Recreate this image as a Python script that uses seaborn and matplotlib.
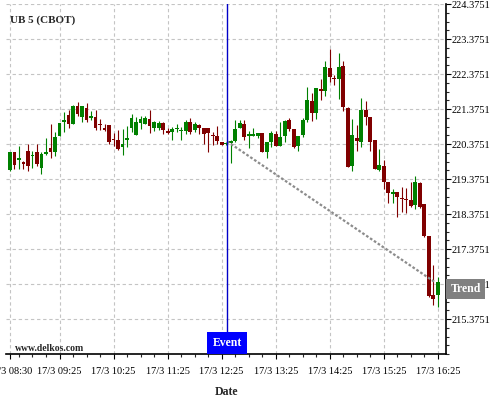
"""
UB 5 (CBOT) 5分钟K线图，带事件线和趋势线
"""

import numpy as np
import pandas as pd
import matplotlib
matplotlib.use("Agg")
import matplotlib.pyplot as plt
import matplotlib.dates as mdates
import matplotlib.transforms as mtransforms
import seaborn as sns

# 数据
opens = [219.63, 220.15, 219.93, 219.86, 220.18, 220.02, 220.15, 219.70, 220.09, 220.27,
         220.16, 220.61, 221.01, 221.20, 220.95, 221.46, 221.15, 221.39, 221.13, 221.15,
         220.95, 220.82, 220.92, 220.52, 220.50, 220.29, 220.50, 220.82, 220.63, 220.97,
         220.94, 221.09, 220.84, 220.84, 220.97, 220.75, 220.71, 220.80, 220.75, 220.75,
         220.99, 220.77, 220.92, 220.84, 220.84, 220.63, 220.59, 220.42, 220.37, 220.40,
         220.46, 220.84, 220.95, 220.59, 220.61, 220.61, 220.69, 220.16, 220.42, 220.67,
         220.32, 220.60, 221.06, 220.79, 220.32, 220.64, 221.06, 221.59, 221.27, 221.95,
         221.90, 222.55, 222.26, 222.24, 222.60, 221.40, 219.75, 220.55, 220.43, 221.35,
         221.16, 220.49, 219.63, 219.75, 219.29, 218.95, 219.00, 218.83, 218.81, 218.78,
         218.62, 219.27, 218.66, 217.75, 216.07, 216.07]
highs = [220.15, 220.15, 220.33, 219.88, 220.38, 220.18, 220.38, 220.15, 220.55, 220.94,
         220.73, 220.97, 221.30, 221.34, 221.48, 221.58, 221.46, 221.55, 221.32, 221.35,
         221.09, 220.94, 220.92, 220.69, 220.78, 220.80, 220.90, 221.24, 221.15, 221.17,
         221.18, 221.35, 221.03, 221.03, 221.01, 220.82, 220.86, 220.95, 220.86, 221.07,
         221.13, 220.99, 220.95, 220.84, 220.84, 220.71, 220.90, 220.42, 220.42, 220.48,
         221.05, 221.07, 221.07, 220.75, 220.82, 220.69, 220.69, 220.42, 220.75, 220.75,
         221.00, 221.06, 221.12, 220.79, 220.60, 221.12, 221.99, 221.82, 221.97, 222.22,
         222.74, 223.10, 222.35, 222.97, 222.74, 221.44, 221.10, 220.93, 221.69, 221.61,
         221.16, 220.49, 220.22, 219.92, 219.29, 219.10, 219.00, 219.16, 219.12, 219.29,
         219.46, 219.29, 218.66, 217.75, 216.91, 216.58]
lows = [219.60, 219.66, 219.66, 219.66, 219.60, 219.69, 219.75, 219.53, 220.06, 219.97,
        220.04, 220.59, 220.71, 220.82, 220.94, 221.18, 221.01, 220.99, 221.05, 220.78,
        220.78, 220.75, 220.38, 220.33, 220.19, 220.06, 220.29, 220.73, 220.63, 220.80,
        220.94, 220.69, 220.75, 220.78, 220.67, 220.65, 220.48, 220.73, 220.50, 220.67,
        220.67, 220.73, 220.67, 220.37, 220.14, 220.35, 220.38, 220.35, 220.35, 219.82,
        220.43, 220.82, 220.48, 220.27, 220.59, 220.55, 220.14, 219.97, 220.30, 220.31,
        220.32, 220.43, 220.75, 220.26, 220.17, 220.57, 221.00, 221.02, 221.10, 221.63,
        221.75, 222.15, 222.05, 221.67, 221.31, 219.71, 219.61, 220.17, 220.30, 220.93,
        220.17, 219.65, 219.61, 219.10, 218.70, 218.70, 218.30, 218.43, 218.40, 218.58,
        218.53, 218.56, 217.71, 215.99, 215.77, 215.73]
closes = [220.15, 219.78, 219.98, 219.80, 219.74, 220.06, 219.81, 220.10, 220.14, 220.16,
          220.57, 220.97, 221.07, 220.95, 221.46, 221.22, 221.46, 221.07, 221.17, 220.84,
          220.92, 220.78, 220.44, 220.48, 220.23, 220.37, 220.54, 221.13, 221.01, 221.09,
          221.11, 220.90, 220.99, 220.97, 220.78, 220.69, 220.80, 220.84, 220.78, 220.99,
          220.73, 220.94, 220.82, 220.67, 220.69, 220.59, 220.46, 220.35, 220.40, 220.46,
          220.80, 220.97, 220.57, 220.65, 220.65, 220.69, 220.16, 220.42, 220.69, 220.31,
          220.57, 221.04, 220.80, 220.30, 220.60, 221.06, 221.63, 221.25, 221.97, 221.90,
          222.57, 222.30, 222.22, 222.57, 221.44, 219.73, 220.64, 220.45, 221.35, 221.16,
          220.43, 219.67, 219.77, 219.29, 218.97, 219.00, 218.85, 218.80, 218.78, 218.60,
          219.29, 218.58, 217.75, 216.03, 215.95, 216.43]

times = pd.date_range("2017-03-17 08:30", periods=len(opens), freq="5min")

event_time = pd.Timestamp("2017-03-17 12:31")
trend_times = pd.to_datetime(["2017-03-17 12:31", "2017-03-17 16:21"])
trend_prices = [220.45, 216.44]
trend_label_price = 216.24

tick_times = pd.to_datetime(["2017-03-17 08:30", "2017-03-17 09:25", "2017-03-17 10:25",
                             "2017-03-17 11:25", "2017-03-17 12:25", "2017-03-17 13:25",
                             "2017-03-17 14:25", "2017-03-17 15:25", "2017-03-17 16:25"])
tick_labels = ["17/3 08:30", "17/3 09:25", "17/3 10:25", "17/3 11:25", "17/3 12:25",
               "17/3 13:25", "17/3 14:25", "17/3 15:25", "17/3 16:25"]
y_ticks = [215.3751, 216.3751, 217.3751, 218.3751, 219.3751,
           220.3751, 221.3751, 222.3751, 223.3751, 224.3751]

UP = "#008000"
DOWN = "#800000"

sns.set_style("ticks")
plt.rcParams["font.family"] = ["Liberation Serif", "DejaVu Serif"]

df = pd.DataFrame({"time": times, "open": opens, "high": highs,
                   "low": lows, "close": closes})
df["color"] = np.where(df["close"] >= df["open"], UP, DOWN)

fig = plt.figure(figsize=(5, 4), dpi=100)
ax = fig.add_axes([0.012, 0.115, 0.88, 0.875])

# 网格
ax.grid(True, which="major", color="#c4c4c4", linestyle=(0, (3, 2.5)), linewidth=0.8)
ax.set_axisbelow(True)

# K线
width = pd.Timedelta(minutes=4.2)
ax.vlines(df["time"], df["low"], df["high"], colors=df["color"], linewidth=0.8, zorder=3)
ax.bar(df["time"], (df["close"] - df["open"]).abs().clip(lower=0.02),
       bottom=df[["open", "close"]].min(axis=1), width=width,
       color=df["color"], edgecolor="none", zorder=4)

# 趋势线
sns.lineplot(x=trend_times, y=trend_prices, ax=ax, color="#8c8c8c",
             linewidth=1.6, linestyle=(0, (1.2, 0.9)), zorder=5)

# 事件线
ax.axvline(event_time, color="#0000c8", linewidth=1, zorder=6)

ax.set_xlim(times[0] - pd.Timedelta(minutes=4.4), times[0] + pd.Timedelta(minutes=484))
ax.set_ylim(214.3751, 224.3751)

# 坐标轴
ax.yaxis.tick_right()
ax.set_yticks(y_ticks)
ax.set_yticklabels([f"{v:.4f}" for v in y_ticks])
ax.set_yticks(np.arange(214.3751, 224.38, 0.25), minor=True)
ax.set_xticks(tick_times)
ax.set_xticklabels(tick_labels)
ax.xaxis.set_minor_locator(mdates.MinuteLocator(byminute=[10, 25, 40, 55]))
ax.tick_params(axis="both", which="major", direction="out", length=3.5, width=0.8,
               labelsize=7.5, colors="black")
ax.tick_params(axis="both", which="minor", direction="out", length=2, width=0.8)
ax.tick_params(axis="y", which="major", pad=0.5)
ax.tick_params(axis="x", which="major", pad=6)

for side in ["left", "top"]:
    ax.spines[side].set_visible(False)
for side in ["right", "bottom"]:
    ax.spines[side].set_color("black")
    ax.spines[side].set_linewidth(1.2)

ax.set_xlabel("Date", fontsize=8.5, fontweight="bold", labelpad=7)
ax.set_ylabel("")

# 事件标签
blend_x = mtransforms.blended_transform_factory(ax.transData, ax.transAxes)
ax.annotate("Event", xy=(mdates.date2num(event_time), 0), xycoords=blend_x, xytext=(0, 3.5),
            textcoords="offset points", ha="center", va="bottom", color="white",
            fontsize=8.5, fontweight="bold", zorder=10, annotation_clip=False,
            bbox=dict(boxstyle="square,pad=0.42", facecolor="#0000ff", edgecolor="none"))

# 趋势标签
blend_y = mtransforms.blended_transform_factory(ax.transAxes, ax.transData)
ax.annotate("Trend", xy=(1, trend_label_price), xycoords=blend_y, xytext=(3.2, 0),
            textcoords="offset points", ha="left", va="center", color="white",
            fontsize=8.5, fontweight="bold", zorder=10, annotation_clip=False,
            bbox=dict(boxstyle="square,pad=0.35", facecolor="#808080", edgecolor="none"))

fig.text(0.02, 0.949, "UB 5 (CBOT)", fontsize=8, fontweight="bold", va="center")
fig.text(0.03, 0.129, "www.delkos.com", fontsize=7, fontweight="bold", va="center")

fig.savefig("out.png", dpi=100)
